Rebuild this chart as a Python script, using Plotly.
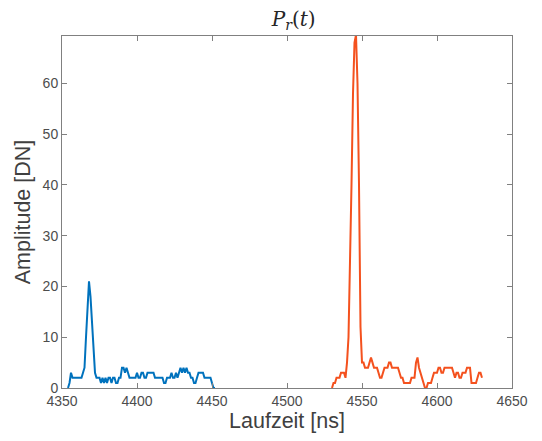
import numpy as np
import plotly.graph_objects as go

# Blue pulse (transmitted), 1 ns sampling starting at 4354 ns
blue_t0 = 4354
blue_vals = [0, 1, 3, 2, 2, 2, 2, 2, 2, 2,
             3, 4, 10, 17, 21, 18, 12, 6, 3, 2,
             2, 2, 1, 2, 1, 2, 1, 2, 2, 1,
             2, 2, 1, 1, 2, 2, 4, 4, 3, 4,
             3, 2, 2, 2, 2, 2, 3, 2, 2, 3,
             3, 2, 2, 3, 3, 3, 3, 3, 2, 2,
             2, 2, 2, 2, 1, 1, 2, 2, 2, 3,
             2, 2, 3, 2, 3, 4, 3, 4, 3, 4,
             3, 3, 2, 2, 1, 1, 2, 3, 3, 3,
             3, 2, 2, 2, 2, 2, 1, 0, 0]

# Red pulse (received), 1 ns sampling starting at 4530 ns
red_t0 = 4530
red_vals = [0, 1, 1, 2, 2, 2, 3, 3, 3, 2,
            5, 10, 22, 40, 58, 68, 69.5, 60, 40, 12,
            5, 5, 4, 4, 4, 5, 6, 5, 4, 4,
            4, 3, 2, 2, 3, 4, 4, 4, 5, 5,
            4, 4, 4, 4, 4, 3, 2, 2, 1, 1,
            1, 1, 1, 2, 2, 2, 5, 6, 4, 3,
            2, 1, 0, 0, 1, 1, 1, 2, 3, 3,
            3, 4, 4, 3, 3, 4, 4, 4, 4, 4,
            4, 3, 2, 3, 3, 2, 2, 3, 3, 3,
            4, 4, 4, 1, 1, 1, 1, 2, 3, 3,
            2]

x_ticks = [4350, 4400, 4450, 4500, 4550, 4600, 4650]
y_ticks = [0, 10, 20, 30, 40, 50, 60]

blue_t = blue_t0 + np.arange(len(blue_vals))
red_t = red_t0 + np.arange(len(red_vals))

fig = go.Figure()
fig.add_trace(go.Scatter(x=blue_t, y=blue_vals, mode="lines",
                         line=dict(color="#0072BD", width=2), showlegend=False))
fig.add_trace(go.Scatter(x=red_t, y=red_vals, mode="lines",
                         line=dict(color="#F4511E", width=2), showlegend=False))

axis_common = dict(
    showline=True, linecolor="#808080", linewidth=1, mirror="ticks",
    ticks="inside", ticklen=5, tickcolor="#808080",
    showgrid=False, zeroline=False,
    tickfont=dict(family="Liberation Sans, Arial, sans-serif", size=14, color="#4d4d4d"),
    title_font=dict(family="Liberation Sans, Arial, sans-serif", size=21.5, color="#404040"),
)

fig.update_xaxes(range=[4350, 4650], tickvals=x_ticks, title_text="Laufzeit [ns]",
                 title_standoff=4, **axis_common)
fig.update_yaxes(range=[0, 69.3], tickvals=y_ticks, title_text="Amplitude [DN]",
                 title_standoff=6, **axis_common)

fig.update_layout(
    width=534, height=433,
    margin=dict(l=54, r=30, t=28, b=53),
    plot_bgcolor="white", paper_bgcolor="white",
    title=dict(text="<i>P</i><sub><i>r</i></sub>(<i>t</i>)",
               x=0.535, xanchor="center", y=0.975, yanchor="middle",
               font=dict(family="DejaVu Serif, Liberation Serif, serif", size=20, color="#262626")),
)

fig.write_html("out.html")
